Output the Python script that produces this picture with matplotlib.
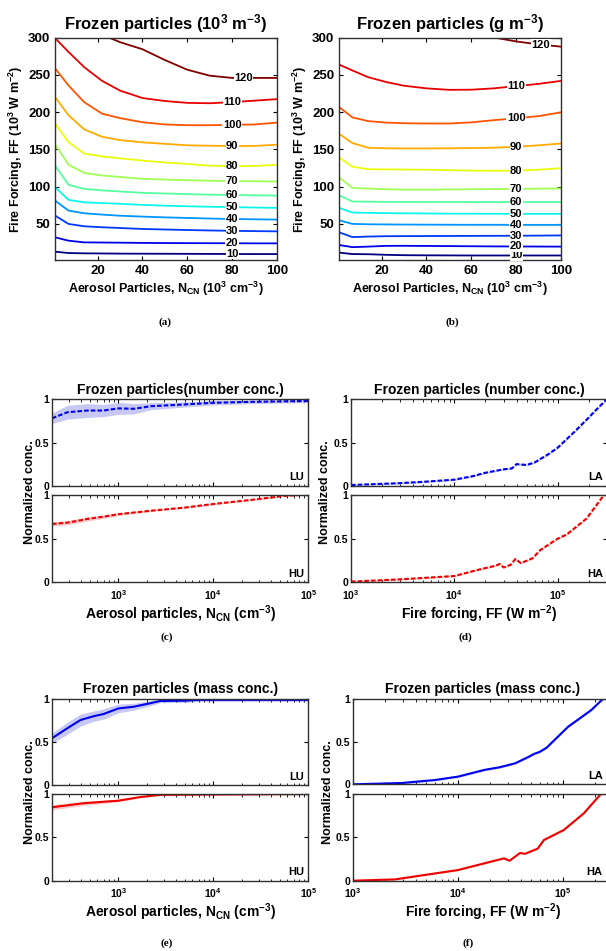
import matplotlib
matplotlib.use("Agg")
import matplotlib.pyplot as plt
import numpy as np

plt.rcParams['font.family'] = ['Liberation Sans', 'DejaVu Sans']
plt.rcParams['font.weight'] = 'bold'
plt.rcParams['axes.labelweight'] = 'bold'
plt.rcParams['axes.titleweight'] = 'bold'
plt.rcParams['mathtext.fontset'] = 'custom'
plt.rcParams['mathtext.rm'] = 'Liberation Sans:bold'
plt.rcParams['mathtext.bf'] = 'Liberation Sans:bold'
plt.rcParams['mathtext.it'] = 'Liberation Sans:bold'
plt.rcParams['mathtext.default'] = 'rm'
plt.rcParams['axes.linewidth'] = 1.0
plt.rcParams['axes.edgecolor'] = '#303030'
plt.rcParams['xtick.direction'] = 'in'
plt.rcParams['ytick.direction'] = 'in'
plt.rcParams['xtick.top'] = True
plt.rcParams['ytick.right'] = True

# ---- contour panels (a), (b): FF (1e3 W m-2) along each level vs N_CN (1e3 cm-3)
levels = [10, 20, 30, 40, 50, 60, 70, 80, 90, 100, 110, 120]
ncn = [1, 7, 14, 22, 30, 40, 50, 60, 70, 80, 90, 100]
nan = np.nan

ff_number = [
    [12.7, 10.9, 10.5, 10.3, 10.1, 10.0, 9.9, 9.8, 9.7, 9.6, 9.5, 9.5],
    [32.0, 27.5, 25.2, 25.0, 24.8, 24.5, 24.3, 24.2, 24.1, 24.0, 23.9, 23.9],
    [61.2, 50.0, 46.8, 45.5, 44.5, 43.2, 42.5, 41.8, 41.2, 40.7, 40.3, 40.0],
    [81.4, 67.9, 64.3, 62.5, 61.0, 59.8, 58.8, 58.0, 57.2, 56.6, 56.2, 55.8],
    [99.3, 82.3, 79.0, 78.0, 77.0, 75.5, 74.5, 73.7, 73.0, 72.5, 72.0, 71.5],
    [128.5, 102.5, 97.0, 95.0, 93.5, 91.7, 90.8, 90.0, 89.3, 88.8, 88.4, 88.0],
    [156.8, 129.5, 118.5, 115.0, 113.0, 110.5, 109.5, 108.7, 108.0, 107.5, 107.2, 107.0],
    [184.7, 160.0, 144.5, 140.6, 138.0, 135.0, 132.5, 130.5, 128.2, 127.6, 127.8, 129.3],
    [220.5, 196.0, 177.0, 167.0, 162.5, 159.5, 157.5, 155.5, 155.0, 154.5, 154.7, 156.3],
    [259.0, 236.0, 213.5, 198.0, 192.0, 186.5, 183.5, 182.5, 182.5, 183.0, 183.5, 186.0],
    [299.5, 281.0, 260.5, 242.0, 229.0, 219.0, 215.0, 212.5, 212.0, 213.5, 215.5, 217.5],
    [nan, nan, nan, 304.0, 294.0, 284.5, 270.0, 257.0, 249.0, 246.0, 246.0, 246.0],
]

ff_mass = [
    [11.5, 9.5, 9.3, 8.5, 8.0, 7.8, 7.7, 7.6, 7.6, 7.6, 7.6, 7.6],
    [21.7, 18.8, 19.5, 20.5, 20.6, 20.4, 20.2, 20.0, 19.8, 19.7, 19.6, 19.5],
    [38.7, 32.3, 33.0, 33.5, 33.6, 33.7, 33.8, 33.9, 34.0, 34.1, 34.3, 34.5],
    [55.0, 50.0, 49.5, 49.3, 49.1, 49.0, 48.9, 48.8, 48.8, 48.7, 48.7, 48.7],
    [71.5, 65.3, 64.8, 64.5, 64.2, 64.0, 63.8, 63.7, 63.6, 63.5, 63.5, 63.5],
    [88.5, 80.0, 79.8, 79.6, 79.5, 79.4, 79.4, 79.3, 79.3, 79.3, 79.3, 79.3],
    [112.5, 98.3, 97.5, 96.5, 96.0, 96.0, 96.3, 96.5, 96.8, 97.0, 97.3, 97.6],
    [139.5, 126.7, 123.4, 123.2, 123.0, 122.7, 122.2, 121.6, 121.3, 121.5, 122.8, 124.8],
    [171.0, 158.5, 152.3, 151.5, 151.3, 151.3, 151.5, 151.8, 152.3, 153.5, 155.5, 158.0],
    [207.0, 193.0, 188.0, 186.0, 185.2, 184.8, 184.8, 186.3, 189.3, 191.8, 194.7, 199.8],
    [264.0, 256.0, 247.0, 240.5, 235.5, 232.0, 230.0, 230.2, 232.0, 235.0, 238.0, 242.0],
    [nan, nan, nan, nan, nan, nan, nan, 305.0, 300.3, 295.0, 291.0, 288.0],
]

# ---- normalized curves (c)-(f)
c_lu_x = [200, 290, 470, 700, 1000, 1450, 2200, 4900, 10000, 24500, 83000, 100000]
c_lu = [0.78, 0.85, 0.87, 0.87, 0.895, 0.89, 0.92, 0.94, 0.96, 0.97, 0.98, 0.98]
c_lu_err = [0.06, 0.08, 0.08, 0.07, 0.07, 0.06, 0.04, 0.03, 0.025, 0.02, 0.02, 0.02]
c_hu_x = [200, 290, 470, 700, 1000, 2200, 4900, 10000, 24500, 55000, 81000, 100000]
c_hu = [0.668, 0.683, 0.725, 0.752, 0.78, 0.82, 0.855, 0.897, 0.943, 0.989, 1.0, 1.0]
c_hu_err = [0.025, 0.025, 0.025, 0.02, 0.015, 0.01, 0.01, 0.01, 0.01, 0.01, 0.01, 0.01]

d_la_x = [1000, 3000, 5000, 10000, 15000, 20000, 30000, 36000, 40000, 50000, 60000,
          80000, 100000, 150000, 200000, 250000, 300000]
d_la = [0.008, 0.03, 0.045, 0.07, 0.11, 0.15, 0.19, 0.2, 0.25, 0.24, 0.27,
        0.36, 0.44, 0.64, 0.79, 0.91, 1.0]
d_ha_x = [1000, 3000, 10000, 16500, 25000, 27500, 30000, 35000, 39000, 44000, 57000,
          68000, 90000, 100000, 123000, 190000, 250000, 280000, 300000]
d_ha = [0.008, 0.034, 0.072, 0.14, 0.19, 0.21, 0.17, 0.2, 0.267, 0.22, 0.275,
        0.37, 0.465, 0.5, 0.55, 0.73, 0.92, 1.0, 1.0]

e_lu_x = [200, 290, 400, 550, 700, 1000, 1450, 2150, 2750, 4900, 7200, 100000]
e_lu = [0.543, 0.66, 0.756, 0.80, 0.826, 0.89, 0.91, 0.95, 0.977, 0.98, 0.99, 0.99]
e_lu_err = [0.06, 0.07, 0.07, 0.06, 0.06, 0.05, 0.04, 0.03, 0.02, 0.02, 0.02, 0.02]
e_hu_x = [200, 430, 1000, 1700, 2750, 10000, 100000]
e_hu = [0.847, 0.893, 0.923, 0.965, 0.99, 0.995, 1.0]
e_hu_err = [0.03, 0.025, 0.015, 0.01, 0.01, 0.01, 0.01]

f_la_x = [1000, 2900, 6000, 10000, 18000, 25000, 35000, 45000, 54000, 60000, 70000,
          112000, 186000, 240000, 300000]
f_la = [0.0, 0.015, 0.05, 0.09, 0.17, 0.2, 0.246, 0.31, 0.36, 0.38, 0.43,
        0.675, 0.87, 1.0, 1.0]
f_ha_x = [1000, 2500, 10000, 24000, 27500, 31000, 39000, 43500, 57500, 66000, 74000,
          102000, 158000, 230000, 300000]
f_ha = [0.0, 0.015, 0.123, 0.24, 0.258, 0.23, 0.32, 0.31, 0.37, 0.47, 0.5,
        0.585, 0.777, 1.0, 1.0]

W, H = 606, 951
fig = plt.figure(figsize=(W / 100, H / 100), dpi=100)


def add_axes_px(left, top, right, bottom):
    return fig.add_axes([left / W, 1 - bottom / H, (right - left) / W, (bottom - top) / H])


def contour_panel(ax, ff, label_x, title):
    cmap = plt.get_cmap('jet')
    for i, lev in enumerate(levels):
        col = cmap((lev - levels[0]) / (levels[-1] - levels[0]))
        ax.plot(ncn, ff[i], color=col, lw=1.3)
        y = np.array(ff[i])
        ok = ~np.isnan(y)
        lx = label_x[i]
        ly = np.interp(lx, np.array(ncn)[ok], y[ok])
        ax.text(lx, ly, str(lev), fontsize=8, ha='center', va='center',
                bbox=dict(facecolor='white', edgecolor='none', pad=0.3), zorder=5)
    ax.set_xlim(1, 100)
    ax.set_ylim(1, 300)
    ax.set_xticks([20, 40, 60, 80, 100])
    ax.set_yticks([50, 100, 150, 200, 250, 300])
    ax.tick_params(labelsize=9.5, length=3, width=0.8)
    ax.set_title(title, fontsize=12, pad=6)
    ax.set_xlabel('Aerosol Particles, N$_{CN}$ (10$^3$ cm$^{-3}$)', fontsize=9, labelpad=2)
    ax.set_ylabel('Fire Forcing, FF (10$^3$ W m$^{-2}$)', fontsize=9, labelpad=2)


ax_a = add_axes_px(55, 37.7, 277, 260.4)
contour_panel(ax_a, ff_number, [80, 80, 80, 80, 80, 80, 80, 80, 80, 80, 80, 85],
              'Frozen particles (10$^3$ m$^{-3}$)')
ax_b = add_axes_px(339, 37.7, 561, 260.4)
contour_panel(ax_b, ff_mass, [80, 80, 80, 80, 80, 80, 80, 80, 80, 80, 80, 91],
              'Frozen particles (g m$^{-3}$)')


def norm_axes(ax, x, y, err, color, band, ls, tag, xlim, labels, tag_x=0.985):
    x = np.array(x)
    y = np.array(y)
    err = np.array(err)
    ax.fill_between(x, np.clip(y - err, 0, 1), np.clip(y + err, 0, 1), color=band, lw=0)
    ax.plot(x, y, color=color, lw=1.5, ls=ls)
    ax.set_xscale('log')
    ax.set_xlim(xlim)
    ax.set_ylim(0, 1)
    ax.set_yticks([0, 0.5, 1])
    ax.set_yticklabels(['0', '0.5', '1'])
    ax.tick_params(which='major', labelsize=7.5, length=3, width=0.8, pad=2)
    ax.tick_params(which='minor', length=1.8, width=0.6)
    if not labels:
        ax.tick_params(labelbottom=False)
    else:
        ax.tick_params(axis='x', pad=4)
    ax.text(tag_x, 0.04, tag, transform=ax.transAxes, ha='right', va='bottom', fontsize=8)


dash = (0, (2.2, 1.0))
blue, red = '#0000ee', '#ee0000'
lblue, lred = '#c8c8f4', '#f6cccc'

# (c)
ax = add_axes_px(52, 399.3, 308.3, 485.7)
norm_axes(ax, c_lu_x, c_lu, c_lu_err, blue, lblue, dash, 'LU', (200, 1e5), False)
ax.set_title('Frozen particles(number conc.)', fontsize=10, pad=4)
ax = add_axes_px(52, 495, 308.3, 582.3)
norm_axes(ax, c_hu_x, c_hu, c_hu_err, red, lred, dash, 'HU', (200, 1e5), True)
ax.set_xlabel('Aerosol particles, N$_{CN}$ (cm$^{-3}$)', fontsize=10, labelpad=1)
fig.text(30 / W, 1 - 492 / H, 'Normalized conc.', rotation=90, ha='center', va='center', fontsize=9)

# (d)
ax = add_axes_px(351, 399.3, 607, 485.7)
norm_axes(ax, d_la_x, d_la, [0.01] * len(d_la), blue, lblue, dash, 'LA', (1e3, 3e5), False)
ax.set_title('Frozen particles (number conc.)', fontsize=10, pad=4)
ax = add_axes_px(351, 495, 607, 582.3)
norm_axes(ax, d_ha_x, d_ha, [0.01] * len(d_ha), red, lred, dash, 'HA', (1e3, 3e5), True)
ax.set_xlabel('Fire forcing, FF (W m$^{-2}$)', fontsize=10, labelpad=1)
fig.text(325 / W, 1 - 492 / H, 'Normalized conc.', rotation=90, ha='center', va='center', fontsize=9)

# (e)
ax = add_axes_px(52, 699, 308.3, 785)
norm_axes(ax, e_lu_x, e_lu, e_lu_err, blue, lblue, '-', 'LU', (200, 1e5), False)
ax.set_title('Frozen particles (mass conc.)', fontsize=10, pad=4)
ax = add_axes_px(52, 794, 308.3, 880.7)
norm_axes(ax, e_hu_x, e_hu, e_hu_err, red, lred, '-', 'HU', (200, 1e5), True)
ax.set_xlabel('Aerosol particles, N$_{CN}$ (cm$^{-3}$)', fontsize=10, labelpad=1)
fig.text(30 / W, 1 - 792 / H, 'Normalized conc.', rotation=90, ha='center', va='center', fontsize=9)

# (f)
ax = add_axes_px(353, 699, 613, 784.3)
norm_axes(ax, f_la_x, f_la, [0.012] * len(f_la), blue, lblue, '-', 'LA', (1e3, 3e5), False, 0.96)
ax.set_title('Frozen particles (mass conc.)', fontsize=10, pad=4)
ax = add_axes_px(353, 794, 613, 880.7)
norm_axes(ax, f_ha_x, f_ha, [0.008] * len(f_ha), red, lred, '-', 'HA', (1e3, 3e5), True, 0.96)
ax.set_xlabel('Fire forcing, FF (W m$^{-2}$)', fontsize=10, labelpad=1)
fig.text(328 / W, 1 - 792 / H, 'Normalized conc.', rotation=90, ha='center', va='center', fontsize=9)

# panel letters
for lab, px, py in [('(a)', 165, 322), ('(b)', 452, 322), ('(c)', 167, 637),
                    ('(d)', 465, 637), ('(e)', 167, 943), ('(f)', 468, 943)]:
    fig.text(px / W, 1 - py / H, lab, ha='center', va='center', fontsize=8,
             family='Liberation Serif', fontweight='bold')

fig.savefig('out.png', dpi=100)
